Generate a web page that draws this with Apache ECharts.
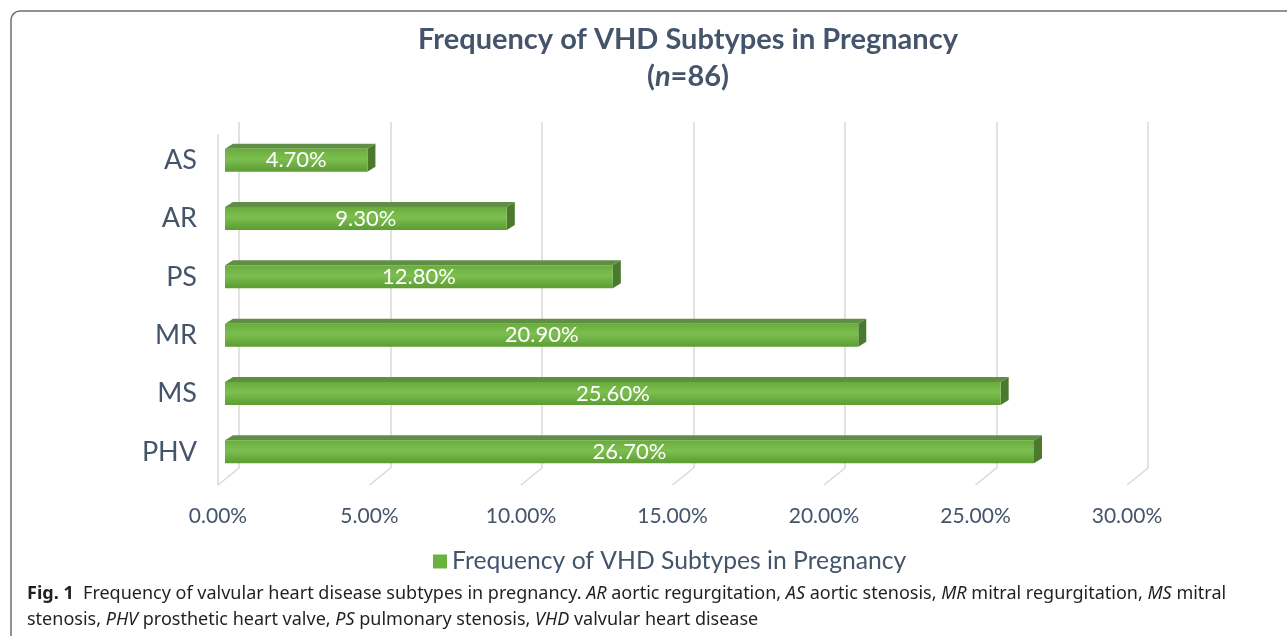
<!DOCTYPE html>
<html>
<head>
<meta charset="utf-8">
<script src="https://cdn.jsdelivr.net/npm/echarts@6/dist/echarts.min.js"></script>
<style>
    html, body { margin: 0; padding: 0; background: #fff; }
    #chart { width: 1287px; height: 636px; }
</style>
</head>
<body>
<div id="chart"></div>
<script>
// data
var categories = ['AS', 'AR', 'PS', 'MR', 'MS', 'PHV'];
var frequency = [4.7, 9.3, 12.8, 20.9, 25.6, 26.7];
var xTicks = [0, 5, 10, 15, 20, 25, 30];
var seriesName = 'Frequency of VHD Subtypes in Pregnancy';

var textColor = '#44546a';
var gridColor = '#d9d9d9';
var font = 'Lato';
var capFont = 'Noto Sans';

var chart = echarts.init(document.getElementById('chart'));

// 3d-ish bar, front face + top + side
function renderBar(params, api) {
    var idx = api.value(0);
    var val = api.value(1);
    var start = api.coord([0, idx]);
    var end = api.coord([val, idx]);
    var h = 23, dx = 8, dy = 5;
    var x0 = start[0], x1 = end[0];
    var y0 = start[1] - h / 2, y1 = start[1] + h / 2;
    return {
        type: 'group',
        children: [
            {
                type: 'polygon',
                shape: { points: [[x0, y0], [x0 + dx, y0 - dy], [x1 + dx, y0 - dy], [x1, y0]] },
                style: { fill: '#5f8f45' }
            },
            {
                type: 'polygon',
                shape: { points: [[x1, y0], [x1 + dx, y0 - dy], [x1 + dx, y1 - dy], [x1, y1]] },
                style: { fill: '#4b7a2f' }
            },
            {
                type: 'rect',
                shape: { x: x0, y: y0, width: x1 - x0, height: h },
                style: {
                    fill: new echarts.graphic.LinearGradient(0, 0, 0, 1, [
                        { offset: 0, color: '#6aac3c' },
                        { offset: 0.45, color: '#7cbf50' },
                        { offset: 1, color: '#5c9c33' }
                    ])
                },
                textContent: {
                    style: { text: val.toFixed(2) + '%', fill: '#fff', fontSize: 22, fontFamily: font }
                },
                textConfig: { position: 'inside' }
            }
        ]
    };
}

// floor diagonals under the back gridlines
function renderFloor(params, api) {
    var p = api.coord([api.value(0), 0]);
    return {
        type: 'line',
        shape: { x1: p[0], y1: p[1], x2: p[0] - 21, y2: p[1] + 17 },
        style: { stroke: gridColor, lineWidth: 1.5 }
    };
}

var option = {
    backgroundColor: '#fff',
    animation: false,
    textStyle: { fontFamily: font },
    title: {
        text: 'Frequency of VHD Subtypes in Pregnancy\n{p|(}{i|n}{p|=86)}',
        left: 683,
        top: 16,
        textAlign: 'center',
        textStyle: {
            color: textColor,
            fontSize: 29,
            fontWeight: 'bold',
            fontFamily: font,
            lineHeight: 37,
            rich: {
                p: { color: textColor, fontSize: 29, fontWeight: 'bold', fontFamily: font, lineHeight: 37 },
                i: { color: textColor, fontSize: 29, fontWeight: 'bold', fontStyle: 'italic', fontFamily: font, lineHeight: 37 }
            }
        }
    },
    legend: {
        left: 428,
        top: 544,
        icon: 'rect',
        itemWidth: 14,
        itemHeight: 14,
        itemGap: 8,
        selectedMode: false,
        textStyle: { color: textColor, fontSize: 24.7, fontFamily: font },
        data: [{ name: seriesName, itemStyle: { color: '#6ab23f' } }]
    },
    grid: [
        { left: 239, right: 139, top: 122, bottom: 168 },   // back wall
        { left: 218, right: 160, top: 135, bottom: 151 },   // front floor + labels
        { left: 225, right: 153, top: 131, bottom: 155 }    // bars
    ],
    xAxis: [
        {
            gridIndex: 0, type: 'value', min: 0, max: 30, interval: 5,
            axisLine: { show: false }, axisTick: { show: false }, axisLabel: { show: false },
            splitLine: { show: true, lineStyle: { color: gridColor, width: 1.5 } }
        },
        {
            gridIndex: 1, type: 'value', min: 0, max: 30, interval: 5,
            axisLine: { show: false }, axisTick: { show: false }, splitLine: { show: false },
            axisLabel: {
                color: textColor, fontSize: 21, fontFamily: font, margin: 21,
                formatter: function (v) { return v.toFixed(2) + '%'; }
            }
        },
        {
            gridIndex: 2, type: 'value', min: 0, max: 30, show: false
        }
    ],
    yAxis: [
        { gridIndex: 0, type: 'value', min: 0, max: 1, show: false },
        {
            gridIndex: 1, type: 'value', min: 0, max: 1,
            axisLine: { show: true, lineStyle: { color: gridColor, width: 1.5 } },
            axisTick: { show: false }, axisLabel: { show: false }, splitLine: { show: false }
        },
        {
            gridIndex: 2, type: 'category', inverse: true, data: categories,
            axisLine: { show: false }, axisTick: { show: false },
            axisLabel: { color: textColor, fontSize: 27, fontFamily: font, margin: 28 }
        }
    ],
    series: [
        {
            type: 'custom',
            name: 'floor',
            xAxisIndex: 0, yAxisIndex: 0,
            renderItem: renderFloor,
            data: xTicks.map(function (v) { return [v]; }),
            silent: true,
            z: 1
        },
        {
            type: 'custom',
            name: seriesName,
            xAxisIndex: 2, yAxisIndex: 2,
            itemStyle: { color: '#6ab23f' },
            renderItem: renderBar,
            encode: { x: 1, y: 0 },
            data: frequency.map(function (v, i) { return [i, v]; }),
            z: 3
        }
    ],
    graphic: [
        {
            type: 'rect',
            shape: { x: 11, y: 11, width: 1320, height: 700, r: [9, 0, 0, 0] },
            style: { fill: 'none', stroke: '#6f6f6f', lineWidth: 1.5 },
            silent: true
        },
        {
            type: 'text',
            left: 27,
            top: 581,
            style: {
                text: '{b|Fig. 1}  Frequency of valvular heart disease subtypes in pregnancy. {i|AR} aortic regurgitation, {i|AS} aortic stenosis, {i|MR} mitral regurgitation, {i|MS} mitral\n' +
                      'stenosis, {i|PHV} prosthetic heart valve, {i|PS} pulmonary stenosis, {i|VHD} valvular heart disease',
                fill: '#231f20',
                fontSize: 18,
                fontFamily: capFont,
                lineHeight: 26,
                rich: {
                    b: { fontWeight: 'bold', fontSize: 18, fill: '#231f20', fontFamily: capFont, lineHeight: 26 },
                    i: { fontStyle: 'italic', fontSize: 18, fill: '#231f20', fontFamily: capFont, lineHeight: 26 }
                }
            }
        }
    ]
};

chart.setOption(option);
</script>
</body>
</html>
